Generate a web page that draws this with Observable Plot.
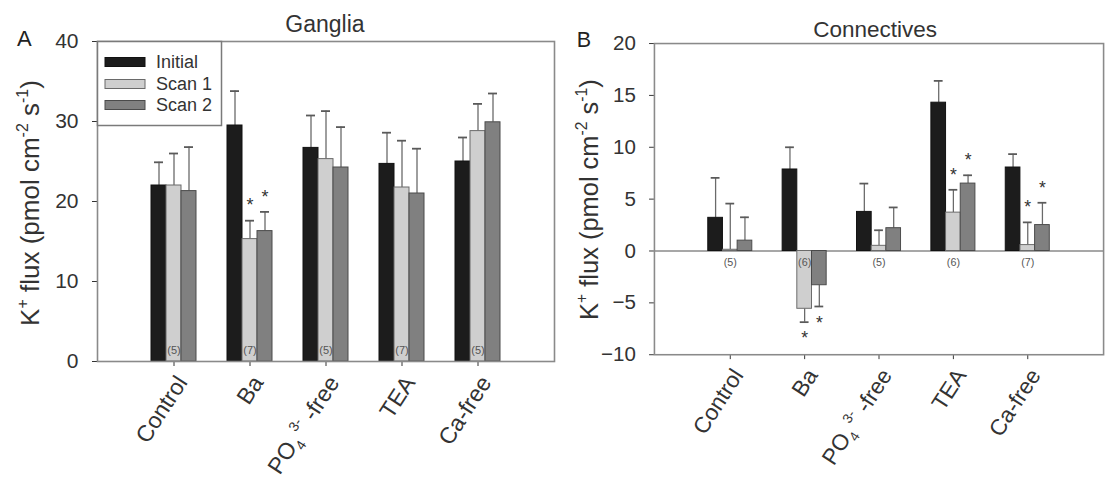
<!DOCTYPE html>
<html><head><meta charset="utf-8">
<script src="https://cdn.jsdelivr.net/npm/d3@7"></script>
<script src="https://cdn.jsdelivr.net/npm/@observablehq/plot@0.6"></script>
<style>
html,body{margin:0;padding:0;background:#fff;overflow:hidden;width:1108px;height:477px}
#wrap{position:relative;width:1108px;height:477px;overflow:hidden}
#a,#b{position:absolute;top:0}
#a{left:0}#b{left:560px}
svg{font-family:"Liberation Sans",Arial,sans-serif;overflow:visible}
</style></head><body><div id="wrap"><div id="a"></div><div id="b"></div></div>
<script>
// ---- data ----
const categories = ["Control", "Ba", "PO4 3- -free", "TEA", "Ca-free"];
const series = ["Initial", "Scan 1", "Scan 2"];

// Ganglia (panel A): means and SE
const gInitial = [22.0, 29.5, 26.7, 24.7, 25.0];
const gInitialSE = [2.9, 4.3, 4.05, 3.9, 3.0];
const gScan1 = [22.0, 15.3, 25.3, 21.75, 28.8];
const gScan1SE = [4.0, 2.3, 6.0, 5.85, 3.4];
const gScan2 = [21.3, 16.3, 24.25, 21.0, 29.9];
const gScan2SE = [5.5, 2.4, 5.05, 5.6, 3.6];
const gN = [5, 7, 5, 7, 5];
const gSigScan1 = [false, true, false, false, false];
const gSigScan2 = [false, true, false, false, false];
const gTicks = [0, 10, 20, 30, 40];

// Connectives (panel B)
const cInitial = [3.2, 7.86, 3.77, 14.3, 8.05];
const cInitialSE = [3.85, 2.14, 2.73, 2.1, 1.29];
const cScan1 = [0.12, -5.57, 0.5, 3.7, 0.57];
const cScan1SE = [4.45, 1.29, 1.5, 2.2, 2.19];
const cScan2 = [1.0, -3.3, 2.2, 6.5, 2.5];
const cScan2SE = [2.25, 2.05, 2.0, 0.8, 2.15];
const cN = [5, 6, 5, 6, 7];
const cSigScan1 = [false, true, false, true, true];
const cSigScan2 = [false, true, false, true, true];
const cTicks = [-10, -5, 0, 5, 10, 15, 20];

const fills = ["#1c1c1c", "#cfcfcf", "#808080"];
const strokes = ["#111", "#6a6a6a", "#4a4a4a"];

function buildRows(means, ses, sigs) {
  const rows = [];
  series.forEach((s, i) => categories.forEach((c, j) => {
    const v = means[i][j], se = ses[i][j];
    rows.push({cat: c, series: s, si: i, value: v, end: v >= 0 ? v + se : v - se, sig: sigs[i] ? sigs[i][j] : false});
  }));
  return rows;
}

const gRows = buildRows([gInitial, gScan1, gScan2], [gInitialSE, gScan1SE, gScan2SE], [null, gSigScan1, gSigScan2]);
const cRows = buildRows([cInitial, cScan1, cScan2], [cInitialSE, cScan1SE, cScan2SE], [null, cSigScan1, cSigScan2]);

const SUB = 15; // sub-bar width (px)

function panel(rows, nArr, opts) {
  const marks = [];
  if (opts.zero) marks.push(Plot.ruleY([0], {stroke: "#8a8a8a", strokeWidth: 1.6}));
  series.forEach((s, i) => {
    const r = rows.filter(d => d.si === i);
    marks.push(Plot.ruleX(r, {x: "cat", y1: "value", y2: "end", dx: (i - 1) * SUB, stroke: "#6a6a6a", strokeWidth: 1.3}));
    marks.push(Plot.tickY(r, {x: "cat", y: "end", insetLeft: i * SUB + 3, insetRight: (2 - i) * SUB + 3, stroke: "#5a5a5a", strokeWidth: 1.8}));
  });
  series.forEach((s, i) => {
    const r = rows.filter(d => d.si === i);
    marks.push(Plot.barY(r, {x: "cat", y1: 0, y2: "value", fill: fills[i], stroke: strokes[i], strokeWidth: 1, insetLeft: i * SUB, insetRight: (2 - i) * SUB}));
  });
  const nRows = categories.map((c, j) => ({cat: c, n: nArr[j]}));
  marks.push(Plot.text(nRows, {x: "cat", y: 0, text: d => `(${d.n})`, dy: opts.nDy, fontSize: 11, fill: "#555"}));
  series.forEach((s, i) => {
    const pos = rows.filter(d => d.si === i && d.sig && d.value >= 0);
    const neg = rows.filter(d => d.si === i && d.sig && d.value < 0);
    marks.push(Plot.text(pos, {x: "cat", y: "end", text: () => "*", dx: (i - 1) * SUB, dy: -15, fontSize: 18, fill: "#333", lineAnchor: "middle"}));
    marks.push(Plot.text(neg, {x: "cat", y: "end", text: () => "*", dx: (i - 1) * SUB, dy: 17, fontSize: 18, fill: "#333", lineAnchor: "middle"}));
  });
  marks.push(Plot.frame({stroke: "#8a8a8a", strokeWidth: 1.6}));
  return Plot.plot({
    width: 560, height: 477,
    marginLeft: opts.ml, marginRight: opts.mr, marginTop: opts.mt, marginBottom: opts.mb,
    style: {fontSize: "21px", fontFamily: "Liberation Sans, Arial, sans-serif", color: "#333", background: "transparent"},
    x: {type: "band", domain: categories, paddingInner: 0.41, paddingOuter: 0.705, label: null, tickRotate: -57, tickSize: 5, tickPadding: 10},
    y: {domain: opts.yDomain, ticks: opts.ticks, label: null, tickSize: 5, tickPadding: 14},
    marks
  });
}

function decorate(svg, o) {
  const s = d3.select(svg);
  s.append("text").attr("x", o.titleX).attr("y", o.titleY).attr("text-anchor", "middle")
    .attr("font-size", 23).attr("fill", "#333").text(o.title);
  s.append("text").attr("x", 17).attr("y", o.letterY).attr("text-anchor", "start").attr("font-size", 22).attr("fill", "#222").text(o.letter);
  const t = s.append("text").attr("transform", `translate(${o.labX},${o.labY}) rotate(-90)`)
    .attr("text-anchor", "middle").attr("font-size", 26).attr("fill", "#333");
  t.append("tspan").text("K");
  t.append("tspan").attr("font-size", 16).attr("dy", -11).text("+");
  t.append("tspan").attr("dy", 11).text(" flux (pmol cm");
  t.append("tspan").attr("font-size", 16).attr("dy", -11).text("-2");
  t.append("tspan").attr("dy", 11).text(" s");
  t.append("tspan").attr("font-size", 16).attr("dy", -11).text("-1");
  t.append("tspan").attr("dy", 11).text(")");
  // x tick labels: larger and nudged right/down
  const xg = s.select('g[aria-label="x-axis tick label"]');
  xg.attr("transform", (xg.attr("transform") || "") + " translate(8,2)");
  xg.selectAll("text").attr("font-size", 23);
  // PO4 tick label with sub/superscripts
  s.selectAll("text").each(function() {
    if (this.textContent === "PO4 3- -free" && this.childElementCount === 0) {
      const el = d3.select(this);
      el.text("");
      el.append("tspan").text("PO");
      el.append("tspan").attr("font-size", 14).attr("dy", 6).text("4");
      el.append("tspan").attr("font-size", 14).attr("dy", -16).text(" 3-");
      el.append("tspan").attr("dy", 10).text(" -free");
    }
  });
}

const svgA = panel(gRows, gN, {ml: 97, mr: 6, mt: 41, mb: 116, yDomain: [0, 40], ticks: gTicks, nDy: -11, zero: false});
decorate(svgA, {title: "Ganglia", titleX: 325, titleY: 32, letter: "A", letterY: 46, labX: 39, labY: 203});
// legend
{
  const s = d3.select(svgA);
  const g = s.append("g");
  g.append("rect").attr("x", 97.5).attr("y", 41.5).attr("width", 124).attr("height", 84).attr("fill", "#fff").attr("stroke", "#7a7a7a").attr("stroke-width", 1.5);
  const ys = [62, 84, 105];
  series.forEach((name, i) => {
    g.append("rect").attr("x", 105).attr("y", ys[i] - 4.5).attr("width", 40).attr("height", 9).attr("fill", fills[i]).attr("stroke", strokes[i]);
    g.append("text").attr("x", 156).attr("y", ys[i]).attr("dy", "0.36em").attr("text-anchor", "start").attr("font-size", 18).attr("fill", "#333").text(name);
  });
}
document.getElementById("a").appendChild(svgA);

const svgB = panel(cRows, cN, {ml: 96, mr: 5, mt: 44, mb: 115, yDomain: [-10, 20], ticks: cTicks, nDy: 12, zero: true});
decorate(svgB, {title: "Connectives", titleX: 322, titleY: 38, letter: "B", letterY: 48, labX: 39, labY: 204});
document.getElementById("b").appendChild(svgB);
</script></body></html>
